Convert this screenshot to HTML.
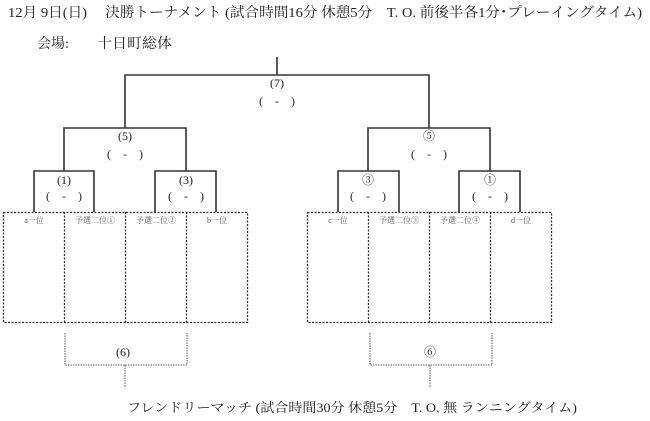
<!DOCTYPE html>
<html><head><meta charset="utf-8"><style>
html,body{margin:0;padding:0;background:#fff;}
svg{display:block;}
text{font-family:"Liberation Serif","Noto Serif CJK SC","Noto Sans CJK JP",serif;fill:#222;}
</style></head><body>
<svg width="650" height="421" viewBox="0 0 650 421" xmlns="http://www.w3.org/2000/svg">
<text x="8" y="17" font-size="14" textLength="634" lengthAdjust="spacingAndGlyphs">12月 9日(日)　 決勝トーナメント (試合時間16分 休憩5分　T. O. 前後半各1分･プレーイングタイム)</text>
<text x="37" y="48" font-size="14" font-family="Noto Sans CJK JP, sans-serif">会場:</text>
<text x="97" y="48" font-size="14" font-family="Noto Sans CJK JP, sans-serif" textLength="75" lengthAdjust="spacingAndGlyphs">十日町総体</text>
<g stroke="#333" stroke-width="1.6" fill="none">
<path d="M277 57V75M125 128V75H429V128"/>
<path d="M64 171V128H186V171M368 171V128H490V171"/>
<path d="M34 212V171H94V212M155 212V171H216V212"/>
<path d="M338 212V171H399V212M459 212V171H520V212"/>
</g>
<g stroke="#333" stroke-width="1.3" fill="none" stroke-dasharray="2,1.5">
<rect x="3.5" y="212.5" width="244" height="110"/>
<path d="M64.5 212V323M125.5 212V323M186.5 212V323"/>
<rect x="307.5" y="212.5" width="244" height="110"/>
<path d="M368.5 212V323M429.5 212V323M490.5 212V323"/>
</g>
<g stroke="#666" stroke-width="1.1" fill="none" stroke-dasharray="1.5,1">
<path d="M65 333V365H187V333M125 365V388"/>
<path d="M370 333V365H492V333M430 365V388"/>
</g>
<g font-size="12" text-anchor="middle">
<text x="277" y="87">(7)</text><text x="277" y="105">(　-　)</text>
<text x="125" y="140">(5)</text><text x="125" y="158">(　-　)</text>
<text x="429" y="140">⑤</text><text x="429" y="158">(　-　)</text>
<text x="64" y="184">(1)</text><text x="64" y="200">(　-　)</text>
<text x="186" y="184">(3)</text><text x="186" y="200">(　-　)</text>
<text x="368" y="184">③</text><text x="368" y="200">(　-　)</text>
<text x="490" y="184">①</text><text x="490" y="200">(　-　)</text>
<text x="123" y="356">(6)</text>
<text x="430" y="356">⑥</text>
</g>
<g font-size="8" text-anchor="middle">
<text x="34" y="223" style="fill:#555">a一位</text>
<text x="95" y="223" style="fill:#555">予選二位①</text>
<text x="156" y="223" style="fill:#555">予選二位②</text>
<text x="217" y="223" style="fill:#555">b一位</text>
<text x="338" y="223" style="fill:#555">c一位</text>
<text x="399" y="223" style="fill:#555">予選二位③</text>
<text x="460" y="223" style="fill:#555">予選二位④</text>
<text x="521" y="223" style="fill:#555">d一位</text>
</g>
<text x="127" y="412" font-size="13" textLength="450" lengthAdjust="spacingAndGlyphs">フレンドリーマッチ (試合時間30分 休憩5分　T. O. 無 ランニングタイム)</text>
</svg>
</body></html>
